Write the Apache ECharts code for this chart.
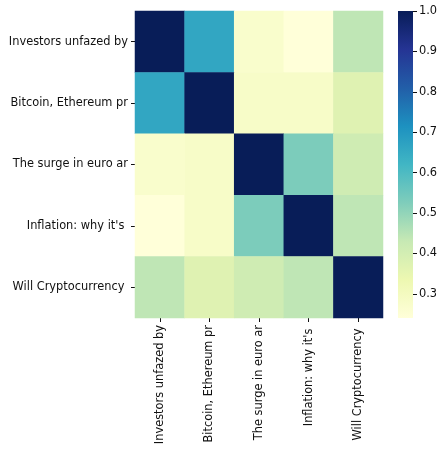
<!DOCTYPE html>
<html>
<head>
<meta charset="utf-8">
<script src="https://cdn.jsdelivr.net/npm/echarts@6/dist/echarts.min.js"></script>
<style>
  html, body { margin: 0; padding: 0; background: #fff; }
  #chart { width: 447px; height: 454px; }
</style>
</head>
<body>
<div id="chart"></div>
<script>
// headline labels, cut at 20 chars like the source
const labels = [
  'Investors unfazed by',
  'Bitcoin, Ethereum pr',
  'The surge in euro ar',
  "Inflation: why it's ",
  'Will Cryptocurrency '
];
// correlation matrix, rows top -> bottom
const row0 = [1.00, 0.66, 0.27, 0.24, 0.44];
const row1 = [0.66, 1.00, 0.28, 0.28, 0.37];
const row2 = [0.27, 0.28, 1.00, 0.53, 0.41];
const row3 = [0.24, 0.28, 0.53, 1.00, 0.44];
const row4 = [0.44, 0.37, 0.41, 0.44, 1.00];
const rows = [row0, row1, row2, row3, row4];

const cbMin = 0.24;
const cbMax = 1.0;
const cbTicks = [0.3, 0.4, 0.5, 0.6, 0.7, 0.8, 0.9, 1.0];

const ylgnbu = ['#ffffd9', '#edf8b1', '#c7e9b4', '#7fcdbb', '#41b6c4', '#1d91c0', '#225ea8', '#253494', '#081d58'];

const cells = [];
rows.forEach((r, y) => r.forEach((v, x) => cells.push([x, y, v])));

const font = 'DejaVu Sans';
const fs = 11.4;
const tick = { show: true, length: 4, lineStyle: { color: '#111', width: 1 } };

const chart = echarts.init(document.getElementById('chart'));
chart.setOption({
  animation: false,
  textStyle: { fontFamily: font },
  grid: [
    { left: 135, top: 11, width: 248, height: 307 },
    { left: 398, top: 11, width: 15, height: 307 }
  ],
  xAxis: [
    {
      gridIndex: 0, type: 'category', data: labels,
      axisLine: { show: false },
      axisTick: Object.assign({ alignWithLabel: true }, tick),
      axisLabel: { rotate: 90, fontSize: fs, color: '#111', margin: 7, fontFamily: font },
      splitLine: { show: false }
    },
    { gridIndex: 1, type: 'category', data: [''], show: false }
  ],
  yAxis: [
    {
      gridIndex: 0, type: 'category', data: labels, inverse: true,
      axisLine: { show: false },
      axisTick: Object.assign({ alignWithLabel: true }, tick),
      axisLabel: { fontSize: fs, color: '#111', margin: 7, fontFamily: font },
      splitLine: { show: false }
    },
    {
      gridIndex: 1, type: 'value', position: 'right', min: cbMin, max: cbMax,
      axisLine: { show: false },
      axisTick: Object.assign({ customValues: cbTicks }, tick),
      axisLabel: {
        customValues: cbTicks, fontSize: fs, color: '#111', margin: 6, fontFamily: font,
        formatter: v => v.toFixed(1)
      },
      splitLine: { show: false }
    }
  ],
  visualMap: {
    show: false, min: cbMin, max: cbMax, seriesIndex: 0, dimension: 2,
    inRange: { color: ylgnbu }
  },
  series: [
    {
      type: 'heatmap', xAxisIndex: 0, yAxisIndex: 0, data: cells,
      itemStyle: { borderWidth: 0 }, emphasis: { disabled: true }
    },
    {
      type: 'bar', xAxisIndex: 1, yAxisIndex: 1, stack: 'cb', barWidth: '100%',
      data: [cbMin], itemStyle: { color: 'rgba(0,0,0,0)' }, silent: true
    },
    {
      type: 'bar', xAxisIndex: 1, yAxisIndex: 1, stack: 'cb', barWidth: '100%',
      data: [cbMax - cbMin], silent: true,
      itemStyle: {
        color: {
          type: 'linear', x: 0, y: 1, x2: 0, y2: 0,
          colorStops: ylgnbu.map((c, i) => ({ offset: i / (ylgnbu.length - 1), color: c }))
        }
      }
    }
  ]
});
</script>
</body>
</html>
